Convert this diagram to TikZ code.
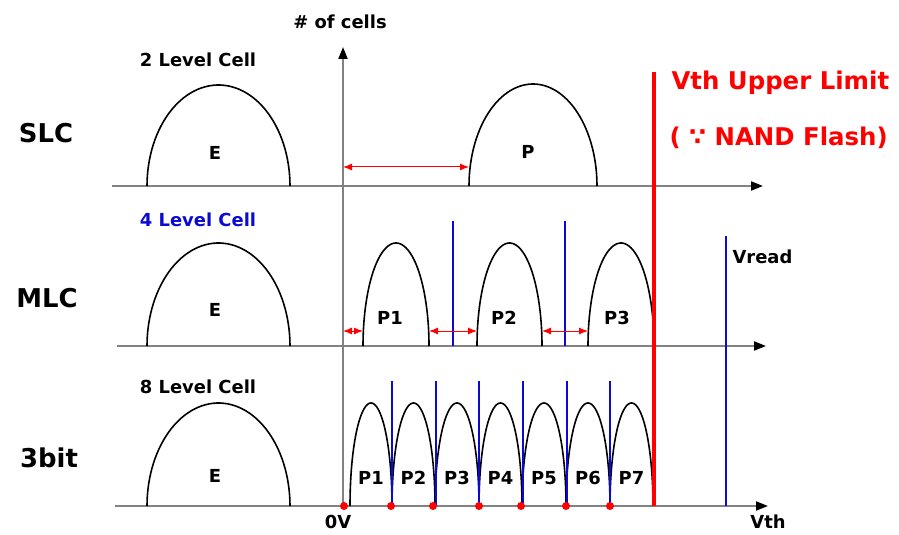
\documentclass[tikz,border=0pt]{standalone}
\usepackage{fontspec}
\setmainfont{DejaVu Sans}
\usetikzlibrary{arrows.meta}

\definecolor{osa}{RGB}{130,130,130}
\definecolor{modra}{RGB}{10,10,210}

\newcommand{\zvon}[4]{% stred, zaklad, polosirka, vyska
  \draw[zvonek] plot[domain=0:180,samples=60] ({#1+#3*cos(\x)},{#2-#4*sin(\x)});}

\begin{document}
\begin{tikzpicture}[x=1bp,y=-1bp,
  every node/.style={font=\bfseries\fontsize{18}{21}\selectfont},
  radek/.style={font=\bfseries\fontsize{26}{29}\selectfont},
  mez/.style={text=red,font=\bfseries\fontsize{24.5}{28}\selectfont},
  osicka/.style={draw=osa,line width=1.8bp,-{Triangle[length=12bp,width=9bp,color=black]}},
  zvonek/.style={black,line width=1.6bp},
  cteni/.style={modra,line width=1.3bp},
  mezera/.style={red,line width=1bp,{Latex[length=9bp,width=7bp]}-{Latex[length=9bp,width=7bp]}}]
  \useasboundingbox (0,0) rectangle (899,535);

  % osy
  \coordinate (ypata) at (343,506);
  \coordinate (yvrch) at (343,47);
  \draw[osicka] (ypata) -- (yvrch);
  \foreach \jm/\yy/\xs/\xe in {slc/186/112/763, mlc/346/117/766, tlc/506/115/768} {
    \coordinate (\jm-s) at (\xs,\yy);
    \coordinate (\jm-e) at (\xe,\yy);
    \draw[osicka] (\jm-s) -- (\jm-e);
  }
  \node (pocet) at (340,22) {\# of cells};
  \node (nulaV) at (338,522) {0V};
  \node (vth) at (768,522) {Vth};

  % nazvy radku
  \node[radek] (slc) at (46,133) {SLC};
  \node[radek] (mlc) at (47,298) {MLC};
  \node[radek] (tlc) at (49,458) {3bit};
  \node (lvl2) at (198,60) {2 Level Cell};
  \node[text=modra] (lvl4) at (198,220) {4 Level Cell};
  \node (lvl8) at (198,387) {8 Level Cell};

  % SLC
  \zvon{218.5}{186}{71.5}{101}
  \zvon{533}{186}{64}{102}
  \node (slcE) at (215,153) {E};
  \node (slcP) at (528,152) {P};
  \coordinate (slcA) at (343,167);
  \coordinate (slcB) at (469,167);
  \draw[mezera] (slcA) -- (slcB);

  % MLC
  \zvon{218.5}{346}{71.5}{103}
  \foreach \c/\r/\t/\lx in {396/33/P1/390, 509.5/32.5/P2/504, 621/33/P3/617} {
    \zvon{\c}{346}{\r}{103}
    \node (mlc\t) at (\lx,318) {\t};
  }
  \node (mlcE) at (215,310) {E};
  \foreach \x in {453,565} {
    \coordinate (rh\x) at (\x,221);
    \coordinate (rd\x) at (\x,346);
    \draw[cteni] (rh\x) -- (rd\x);
  }
  \foreach \a/\b [count=\i] in {343/363, 429/477, 542/588} {
    \coordinate (ma\i) at (\a,331);
    \coordinate (mb\i) at (\b,331);
    \draw[mezera] (ma\i) -- (mb\i);
  }
  \coordinate (vrh) at (726,236);
  \coordinate (vrd) at (726,506);
  \draw[cteni] (vrh) -- (vrd);
  \node[anchor=west] (vread) at (729,257) {Vread};

  % 3bit
  \zvon{218.5}{506}{71.5}{103}
  \node (tlcE) at (215,476) {E};
  \foreach \a/\b [count=\i] in {350/392, 392/435, 435/479, 479/522, 522/566, 566/610, 610/653} {
    \pgfmathsetmacro{\c}{(\a+\b)/2}
    \pgfmathsetmacro{\r}{(\b-\a)/2}
    \zvon{\c}{506}{\r}{103}
    \node (tlcP\i) at (\c,478) {P\i};
  }
  \foreach \x in {392,436,479,523,567,610} {
    \coordinate (th\x) at (\x,381);
    \coordinate (td\x) at (\x,506);
    \draw[cteni] (th\x) -- (td\x);
  }
  \foreach \x in {344,391,433,479,521,566,610}
    \fill[red] (\x,506) circle (4);

  % horni mez
  \coordinate (mezh) at (654,72);
  \coordinate (mezd) at (654,506);
  \draw[red,line width=4.5bp] (mezh) -- (mezd);
  \node[mez,anchor=west] (limit) at (668,83) {Vth Upper Limit};
  \node[mez,anchor=west] (nand) at (666,138) {( ∵ NAND Flash)};
\end{tikzpicture}
\end{document}
